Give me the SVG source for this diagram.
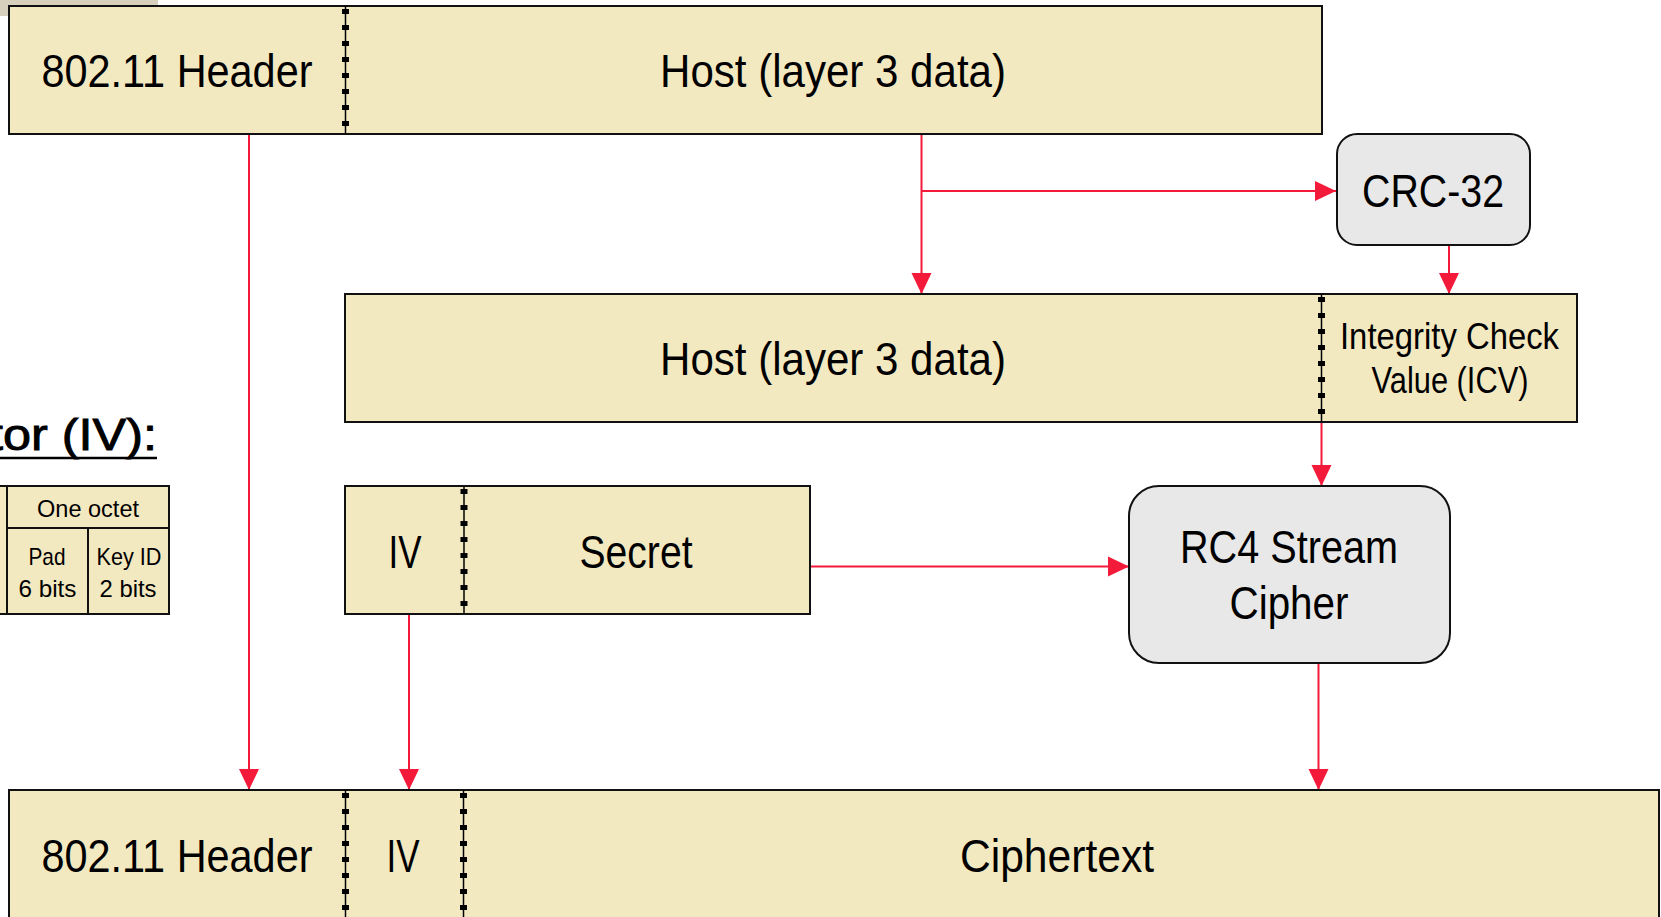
<svg xmlns="http://www.w3.org/2000/svg" width="1661" height="917" viewBox="0 0 1661 917">
<defs>
<style>
.box{fill:#f3e9c1;stroke:#111;stroke-width:2}
.proc{fill:#e8e8e8;stroke:#111;stroke-width:2}
.div{stroke:#000;stroke-width:1.5}
.dots{stroke:#000;stroke-width:7;stroke-dasharray:5 11}
.t{font-family:"Liberation Sans",Arial,sans-serif;fill:#000;text-anchor:middle}
.big{font-size:46px}
.mid{font-size:37px}
.sm{font-size:24px}
.wire{stroke:#f41a3a;stroke-width:2;fill:none}
.cell{fill:#f3e9c1;stroke:#111;stroke-width:2}
</style>
<marker id="ah" markerUnits="userSpaceOnUse" markerWidth="22" markerHeight="22" viewBox="0 0 22 22" refX="21" refY="11" orient="auto">
<path d="M0,1 L21,11 L0,21 Z" fill="#f41a3a"/>
</marker>
</defs>
<rect x="0" y="0" width="158" height="16" fill="#d6d0bc"/>

<g id="connectors">
<line class="wire" x1="249" y1="134" x2="249" y2="790" marker-end="url(#ah)"/>
<line class="wire" x1="921.5" y1="134" x2="921.5" y2="294" marker-end="url(#ah)"/>
<line class="wire" x1="921.5" y1="191" x2="1336" y2="191" marker-end="url(#ah)"/>
<line class="wire" x1="1449" y1="245" x2="1449" y2="294" marker-end="url(#ah)"/>
<line class="wire" x1="1321.5" y1="422" x2="1321.5" y2="486" marker-end="url(#ah)"/>
<line class="wire" x1="810" y1="566.5" x2="1129" y2="566.5" marker-end="url(#ah)"/>
<line class="wire" x1="409" y1="614" x2="409" y2="790" marker-end="url(#ah)"/>
<line class="wire" x1="1318.5" y1="663" x2="1318.5" y2="790" marker-end="url(#ah)"/>
</g>

<g id="top-frame">
<rect class="box" x="9" y="6" width="1313" height="128"/>
<line class="div" x1="345.5" y1="6" x2="345.5" y2="134"/>
<line class="dots" x1="345.5" y1="9" x2="345.5" y2="134"/>
<text class="t big" x="177" y="87" textLength="271" lengthAdjust="spacingAndGlyphs">802.11 Header</text>
<text class="t big" x="833" y="87" textLength="346" lengthAdjust="spacingAndGlyphs">Host (layer 3 data)</text>
</g>

<g id="crc32">
<rect class="proc" x="1337" y="134" width="193" height="111" rx="20"/>
<text class="t big" x="1433" y="207" textLength="142" lengthAdjust="spacingAndGlyphs">CRC-32</text>
</g>

<g id="plaintext-icv">
<rect class="box" x="345" y="294" width="1232" height="128"/>
<line class="div" x1="1321.5" y1="294" x2="1321.5" y2="422"/>
<line class="dots" x1="1321.5" y1="297" x2="1321.5" y2="422"/>
<text class="t big" x="833" y="375" textLength="346" lengthAdjust="spacingAndGlyphs">Host (layer 3 data)</text>
<text class="t mid" x="1449.5" y="349" textLength="219" lengthAdjust="spacingAndGlyphs">Integrity Check</text>
<text class="t mid" x="1450" y="393" textLength="157" lengthAdjust="spacingAndGlyphs">Value (ICV)</text>
</g>

<g id="iv-heading">
<text x="157" y="450" font-family="Liberation Sans,Arial,sans-serif" font-size="44" stroke="#000" stroke-width="0.9" text-anchor="end" textLength="168" lengthAdjust="spacingAndGlyphs">tor (IV):</text>
<line x1="0" y1="458" x2="157" y2="458" stroke="#000" stroke-width="2.5"/>
</g>

<g id="iv-format">
<rect class="cell" x="-40" y="486" width="47" height="128"/>
<rect class="cell" x="7" y="486" width="162" height="42"/>
<rect class="cell" x="7" y="528" width="81" height="86"/>
<rect class="cell" x="88" y="528" width="81" height="86"/>
<text class="t sm" x="88" y="517" textLength="102" lengthAdjust="spacingAndGlyphs">One octet</text>
<text class="t sm" x="47" y="565" textLength="37" lengthAdjust="spacingAndGlyphs">Pad</text>
<text class="t sm" x="47.5" y="597" textLength="58" lengthAdjust="spacingAndGlyphs">6 bits</text>
<text class="t sm" x="129" y="565" textLength="65" lengthAdjust="spacingAndGlyphs">Key ID</text>
<text class="t sm" x="128" y="597" textLength="57" lengthAdjust="spacingAndGlyphs">2 bits</text>
</g>

<g id="seed">
<rect class="box" x="345" y="486" width="465" height="128"/>
<line class="div" x1="464" y1="486" x2="464" y2="614"/>
<line class="dots" x1="464" y1="489" x2="464" y2="614"/>
<text class="t big" x="405" y="568" textLength="33" lengthAdjust="spacingAndGlyphs">IV</text>
<text class="t big" x="636" y="568" textLength="113" lengthAdjust="spacingAndGlyphs">Secret</text>
</g>

<g id="rc4">
<rect class="proc" x="1129" y="486" width="321" height="177" rx="30"/>
<text class="t big" x="1289" y="563" textLength="218" lengthAdjust="spacingAndGlyphs">RC4 Stream</text>
<text class="t big" x="1289" y="619" textLength="119" lengthAdjust="spacingAndGlyphs">Cipher</text>
</g>

<g id="output-frame">
<rect class="box" x="9" y="790" width="1650" height="140"/>
<line class="div" x1="345.5" y1="790" x2="345.5" y2="917"/>
<line class="dots" x1="345.5" y1="793" x2="345.5" y2="917"/>
<line class="div" x1="463.5" y1="790" x2="463.5" y2="917"/>
<line class="dots" x1="463.5" y1="793" x2="463.5" y2="917"/>
<text class="t big" x="177" y="872" textLength="271" lengthAdjust="spacingAndGlyphs">802.11 Header</text>
<text class="t big" x="403" y="872" textLength="33" lengthAdjust="spacingAndGlyphs">IV</text>
<text class="t big" x="1057" y="872" textLength="194" lengthAdjust="spacingAndGlyphs">Ciphertext</text>
</g>
</svg>
